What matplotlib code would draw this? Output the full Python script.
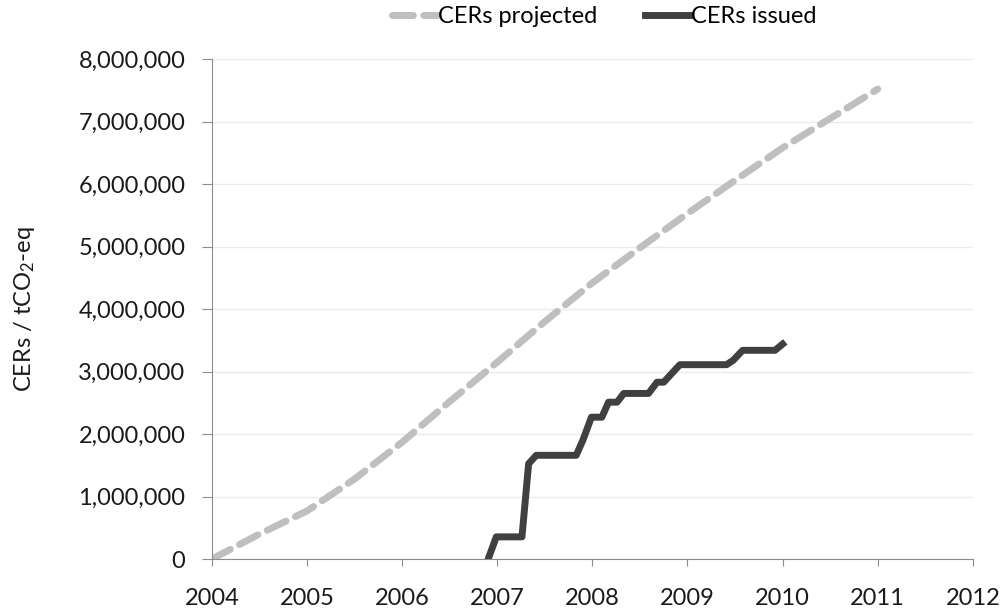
import matplotlib.pyplot as plt
from matplotlib.ticker import FuncFormatter

plt.rcParams['font.family'] = ['Lato', 'DejaVu Sans']
plt.rcParams['mathtext.fontset'] = 'custom'
plt.rcParams['mathtext.rm'] = 'Lato'
plt.rcParams['mathtext.it'] = 'Lato'

# projected CERs (cumulative), read at half-year points
proj_year = [2004, 2004.5, 2005, 2005.5, 2006, 2006.5, 2007, 2007.5, 2008, 2008.5, 2009, 2009.5, 2010, 2010.5, 2011]
proj_val = [0, 400000, 770000, 1280000, 1870000, 2520000, 3150000, 3800000, 4420000, 4980000, 5530000, 6060000, 6580000, 7050000, 7520000]

# issued CERs (cumulative)
iss_year = [2006.905, 2006.99, 2007.26, 2007.33, 2007.41, 2007.83, 2007.90, 2007.99, 2008.10,
            2008.17, 2008.26, 2008.33, 2008.59, 2008.68, 2008.75, 2008.92, 2009.41, 2009.48,
            2009.58, 2009.92, 2010.0]
iss_val = [0, 355000, 355000, 1525000, 1660000, 1660000, 1900000, 2270000, 2270000,
           2510000, 2510000, 2650000, 2650000, 2830000, 2830000, 3110000, 3110000, 3180000,
           3340000, 3340000, 3440000]

fs = 17

fig = plt.figure(figsize=(10.04, 6.09), dpi=100)
ax = fig.add_axes([0.211, 0.082, 0.758, 0.821])

l1, = ax.plot(proj_year, proj_val, color='#bfbfbf', lw=5, ls=(0, (3, 1.5)),
              solid_capstyle='round', dash_capstyle='round', label='CERs projected')
l2, = ax.plot(iss_year, iss_val, color='#404040', lw=5, solid_joinstyle='round',
              label='CERs issued')

ax.set_xlim(2004, 2012)
ax.set_ylim(0, 8000000)
ax.set_xticks(range(2004, 2013))
ax.set_yticks(range(0, 8000001, 1000000))
ax.yaxis.set_major_formatter(FuncFormatter(lambda v, p: '{:,.0f}'.format(v)))
ax.grid(axis='y', color='#ebebeb', lw=1)
ax.set_axisbelow(True)
for s in ['top', 'right']:
    ax.spines[s].set_visible(False)
for s in ['left', 'bottom']:
    ax.spines[s].set_color('#8c8c8c')
ax.tick_params(axis='both', colors='#8c8c8c', labelcolor='#1a1a1a', labelsize=fs)
ax.tick_params(axis='x', length=5, pad=16)
ax.tick_params(axis='y', length=7, pad=12)

ax.set_ylabel('CERs / tCO$_2$-eq', fontsize=fs, labelpad=30, color='#1a1a1a')

fig.legend(handles=[l1, l2], loc='upper center', bbox_to_anchor=(0.602, 1.025), ncol=2,
           frameon=False, fontsize=fs, handlelength=1.9, handletextpad=0.05,
           columnspacing=2.0)

fig.savefig('out.png', dpi=100)
